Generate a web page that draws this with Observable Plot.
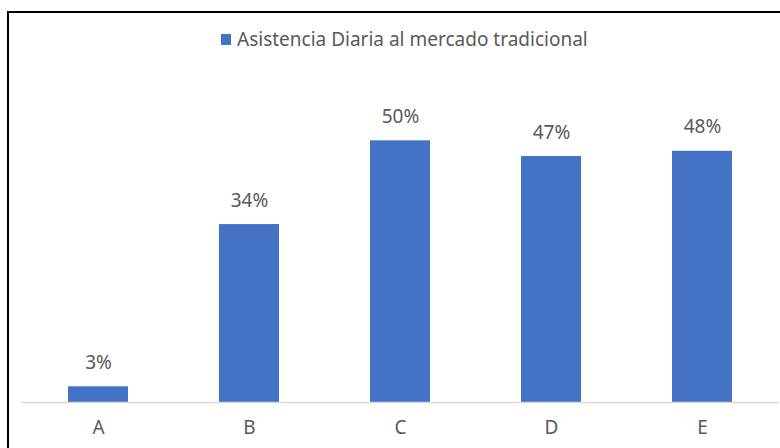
<!DOCTYPE html>
<html>
<head>
<meta charset="utf-8">
<script src="https://cdn.jsdelivr.net/npm/d3@7"></script>
<script src="https://cdn.jsdelivr.net/npm/@observablehq/plot@0.6"></script>
<style>
  html, body { margin: 0; padding: 0; background: #fff; }
  #wrap { position: relative; width: 780px; height: 448px; overflow: hidden; font-family: "Noto Sans", sans-serif; }
  #frame { position: absolute; left: 7px; top: 11px; width: 790px; height: 460px;
           border-left: 2px solid #000; border-top: 2px solid #000; box-sizing: border-box; }
  #legend { position: absolute; top: 28px; left: 221px; display: flex; align-items: center;
            font-size: 19px; color: #595959; line-height: 22px; white-space: nowrap; }
  #legend .swatch { width: 10px; height: 11px; background: #4472C4; margin-right: 6px; }
  #chart { position: absolute; left: 0; top: 0; }
</style>
</head>
<body>
<div id="wrap">
  <div id="chart"></div>
  <div id="frame"></div>
  <div id="legend"><span class="swatch"></span><span id="legend-text"></span></div>
</div>
<script>
// Daily attendance at the traditional market, by group
const seriesName = "Asistencia Diaria al mercado tradicional";
const categories = ["A", "B", "C", "D", "E"];
const values = [3, 34, 50, 47, 48];

const data = categories.map((c, i) => ({cat: c, value: values[i]}));
const blue = "#4472C4";
const grey = "#595959";

document.getElementById("legend-text").textContent = seriesName;

const chart = Plot.plot({
  width: 780,
  height: 448,
  marginLeft: 21,
  marginRight: 1,
  marginTop: 88,
  marginBottom: 46,
  style: {fontFamily: "Noto Sans, sans-serif", background: "transparent", overflow: "visible"},
  x: {domain: categories, paddingInner: 0.6, paddingOuter: 0.3, axis: null},
  y: {domain: [0, 60], axis: null},
  marks: [
    Plot.barY(data, {x: "cat", y: "value", fill: blue}),
    Plot.ruleY([0], {stroke: "#d9d9d9", strokeWidth: 1.5}),
    Plot.text(data, {x: "cat", y: "value", text: d => `${d.value}%`, dy: -24,
                     fill: grey, fontSize: 19}),
    Plot.axisX({tickSize: 0, tickPadding: 18, fontSize: 19, color: grey, label: null})
  ]
});
document.getElementById("chart").appendChild(chart);
</script>
</body>
</html>
